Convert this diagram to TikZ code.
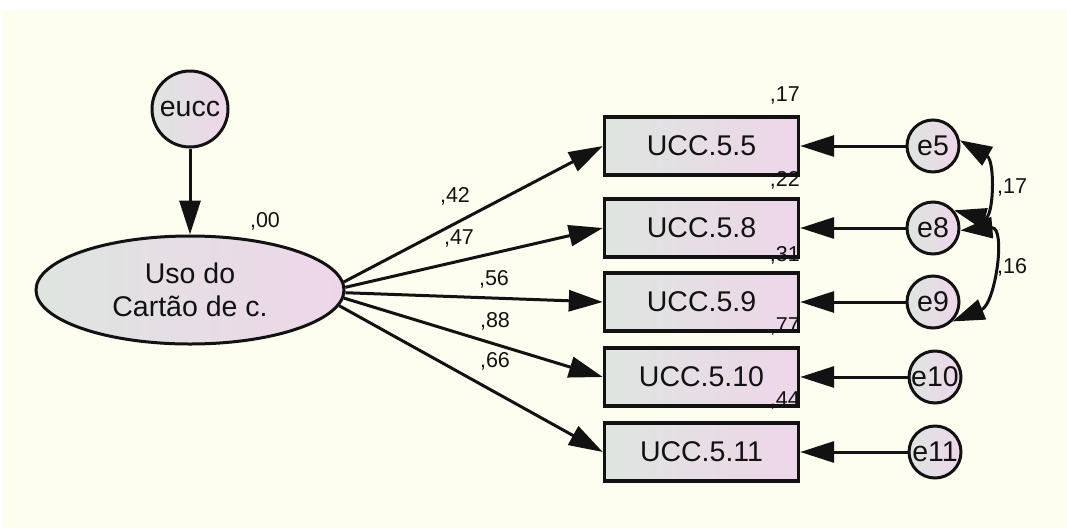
\documentclass[tikz,border=0pt]{standalone}
\usepackage{fontspec}
\setmainfont{Liberation Sans}
\usetikzlibrary{arrows.meta,shapes.geometric}
\definecolor{paper}{RGB}{253,254,239}
\definecolor{shadeL}{RGB}{222,229,224}
\definecolor{shadeR}{RGB}{238,214,233}
\definecolor{ink}{RGB}{18,18,18}

\begin{document}
\begin{tikzpicture}[x=1pt,y=-1pt,
  nodefont/.style={font=\fontsize{28.5}{33}\selectfont, text=ink},
  obs/.style={rectangle, draw=ink, line width=3.4pt, left color=shadeL, right color=shadeR,
    minimum width=194pt, minimum height=58pt, inner sep=0pt, nodefont},
  err/.style={circle, draw=ink, line width=3pt, left color=shadeL, right color=shadeR,
    minimum size=52pt, inner sep=0pt, nodefont},
  bigerr/.style={err, minimum size=76pt},
  latent/.style={ellipse, draw=ink, line width=3pt, left color=shadeL, right color=shadeR,
    minimum width=308pt, minimum height=108pt, inner sep=0pt, align=center, nodefont},
  lab/.style={font=\fontsize{21.5}{24}\selectfont, text=ink, inner sep=0pt},
  path/.style={draw=ink, line width=3pt, -{Triangle[length=34pt,width=21pt]}},
  cov/.style={draw=ink, line width=3pt,
    {Triangle[length=32pt,width=21pt]}-{Triangle[length=32pt,width=21pt]}}
]
% canvas
\useasboundingbox (0,0) rectangle (1067,528);
\fill[white] (0,0) rectangle (1067,528);
\fill[paper] (3,10) rectangle (1067,528);

% latent factor and its disturbance
\node[bigerr] (eucc) at (190,109) {eucc};
\node[latent] (ell) at (190,290) {Uso do\\Cartão de c.};

% indicators
\node[obs] (b1) at (701.5,146) {UCC.5.5};
\node[obs] (b2) at (701.5,228) {UCC.5.8};
\node[obs] (b3) at (701.5,302) {UCC.5.9};
\node[obs] (b4) at (701.5,377) {UCC.5.10};
\node[obs] (b5) at (701.5,452) {UCC.5.11};

% measurement errors
\node[err] (e5)  at (933,146) {e5};
\node[err] (e8)  at (933,228) {e8};
\node[err] (e9)  at (933,302) {e9};
\node[err] (e10) at (935,377) {e10};
\node[err] (e11) at (935,452) {e11};

% structural path
\draw[path] (eucc) -- (ell);

% loadings
\draw[path] (ell.3)    -- (b1.west);
\draw[path] (ell.1)    -- (b2.west);
\draw[path] (ell.-1)   -- (b3.west);
\draw[path] (ell.-3.5) -- (b4.west);
\draw[path] (ell.-6.5) -- (b5.west);

% error terms
\draw[path] (e5)  -- (e5 -| b1.east);
\draw[path] (e8)  -- (e8 -| b2.east);
\draw[path] (e9)  -- (e9 -| b3.east);
\draw[path] (e10) -- (e10 -| b4.east);
\draw[path] (e11) -- (e11 -| b5.east);

% error covariances
\draw[cov] (e5.12) to[out=-30, in=-15, looseness=1.5] (e8.40);
\draw[cov] (e8.-5) to[out=5, in=22, looseness=1.3] (e9.-45);

% estimates
\node[lab] at (265,221) {,00};
\node[lab] at (455,196) {,42};
\node[lab] at (459,238) {,47};
\node[lab] at (494,279) {,56};
\node[lab] at (495,321) {,88};
\node[lab] at (495,361) {,66};
\node[lab, anchor=east] at (800,95)  {,17};
\node[lab, anchor=east] at (800,180) {,22};
\node[lab, anchor=east] at (800,255) {,31};
\node[lab, anchor=east] at (800,326) {,77};
\node[lab, anchor=east] at (800,400) {,44};
\node[lab] at (1012,187) {,17};
\node[lab] at (1012,267) {,16};
\end{tikzpicture}
\end{document}
